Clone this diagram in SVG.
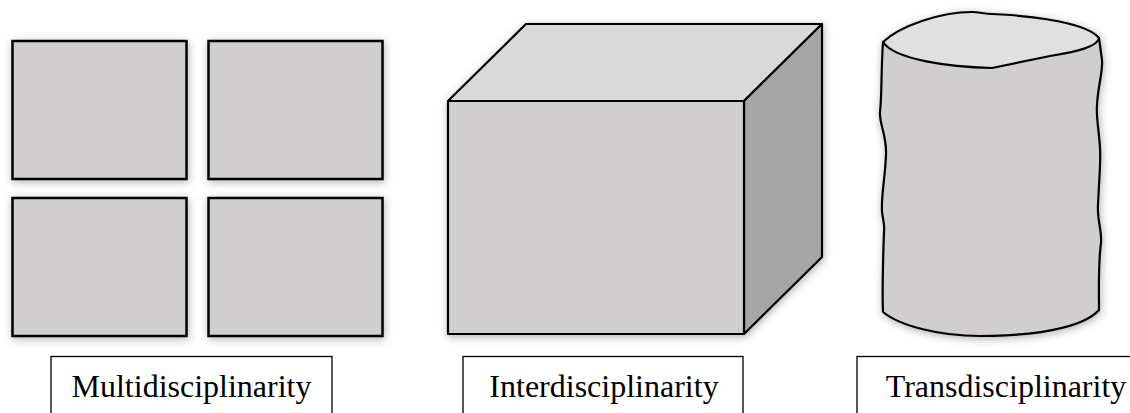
<svg xmlns="http://www.w3.org/2000/svg" width="1130" height="413" viewBox="0 0 1130 413">
  <defs>
    <filter id="glow" x="-20%" y="-20%" width="140%" height="140%">
      <feGaussianBlur in="SourceAlpha" stdDeviation="4" result="b"/>
      <feOffset in="b" dx="1" dy="2" result="o"/>
      <feFlood flood-color="#000" flood-opacity="0.3"/>
      <feComposite in2="o" operator="in" result="s"/>
      <feMerge><feMergeNode in="s"/><feMergeNode in="SourceGraphic"/></feMerge>
    </filter>
  </defs>
  <style>
    .sq { fill: #d0cecf; stroke: #000; stroke-width: 2.5; }
    .edge { stroke: #000; stroke-width: 2.2; stroke-linejoin: round; }
    .lbl { fill: #fff; stroke: #000; stroke-width: 1.3; }
    .txt { font-family: "Liberation Serif", "Times New Roman", serif; font-size: 32px; fill: #000; text-anchor: middle; }
  </style>

  <g id="multidisciplinarity">
    <g filter="url(#glow)">
      <rect class="sq" x="12.5" y="41" width="174" height="138"/>
      <rect class="sq" x="208.5" y="41" width="174" height="138"/>
      <rect class="sq" x="12.5" y="198" width="174" height="138"/>
      <rect class="sq" x="208.5" y="198" width="174" height="138"/>
    </g>
    <rect class="lbl" x="51" y="356.5" width="281" height="70"/>
    <text class="txt" x="191.5" y="397">Multidisciplinarity</text>
  </g>

  <g id="interdisciplinarity">
    <g filter="url(#glow)">
      <path class="edge" fill="#d9d9d9" d="M448 101 L526 24 L822 24 L744 101 Z"/>
      <path class="edge" fill="#a6a6a6" d="M744 101 L822 24 L822 257 L744 334 Z"/>
      <rect class="edge" fill="#d0cecf" x="448" y="101" width="296" height="233"/>
    </g>
    <rect class="lbl" x="463" y="356.5" width="280" height="70"/>
    <text class="txt" x="604" y="397">Interdisciplinarity</text>
  </g>

  <g id="transdisciplinarity">
    <g filter="url(#glow)">
      <path class="edge" fill="#d0cecf" d="M883 42 C881 70 882 95 880 112 C879 124 887 135 886 155 C885 180 881 195 882 212 C883 220 885 225 884 232 C883 260 882 290 883 312 C900 326 940 336 980 336 C1030 336 1082 329 1099 310 C1099 290 1098 265 1101 243 C1102 230 1097 220 1098 205 C1099 180 1101 162 1100 148 C1099 130 1096 118 1097 105 C1098 85 1103 72 1102 60 L1099 38 Z"/>
      <path class="edge" fill="#e0e0e0" d="M883 42 C900 26 940 12 972 12 C980 12 984 14 992 14 C1040 16 1088 24 1099 38 C1098 47 1075 52 1050 56 L992 68 C950 67 895 60 883 42 Z"/>
    </g>
    <rect class="lbl" x="857" y="356.5" width="300" height="70"/>
    <text class="txt" x="1006" y="397">Transdisciplinarity</text>
  </g>
</svg>
